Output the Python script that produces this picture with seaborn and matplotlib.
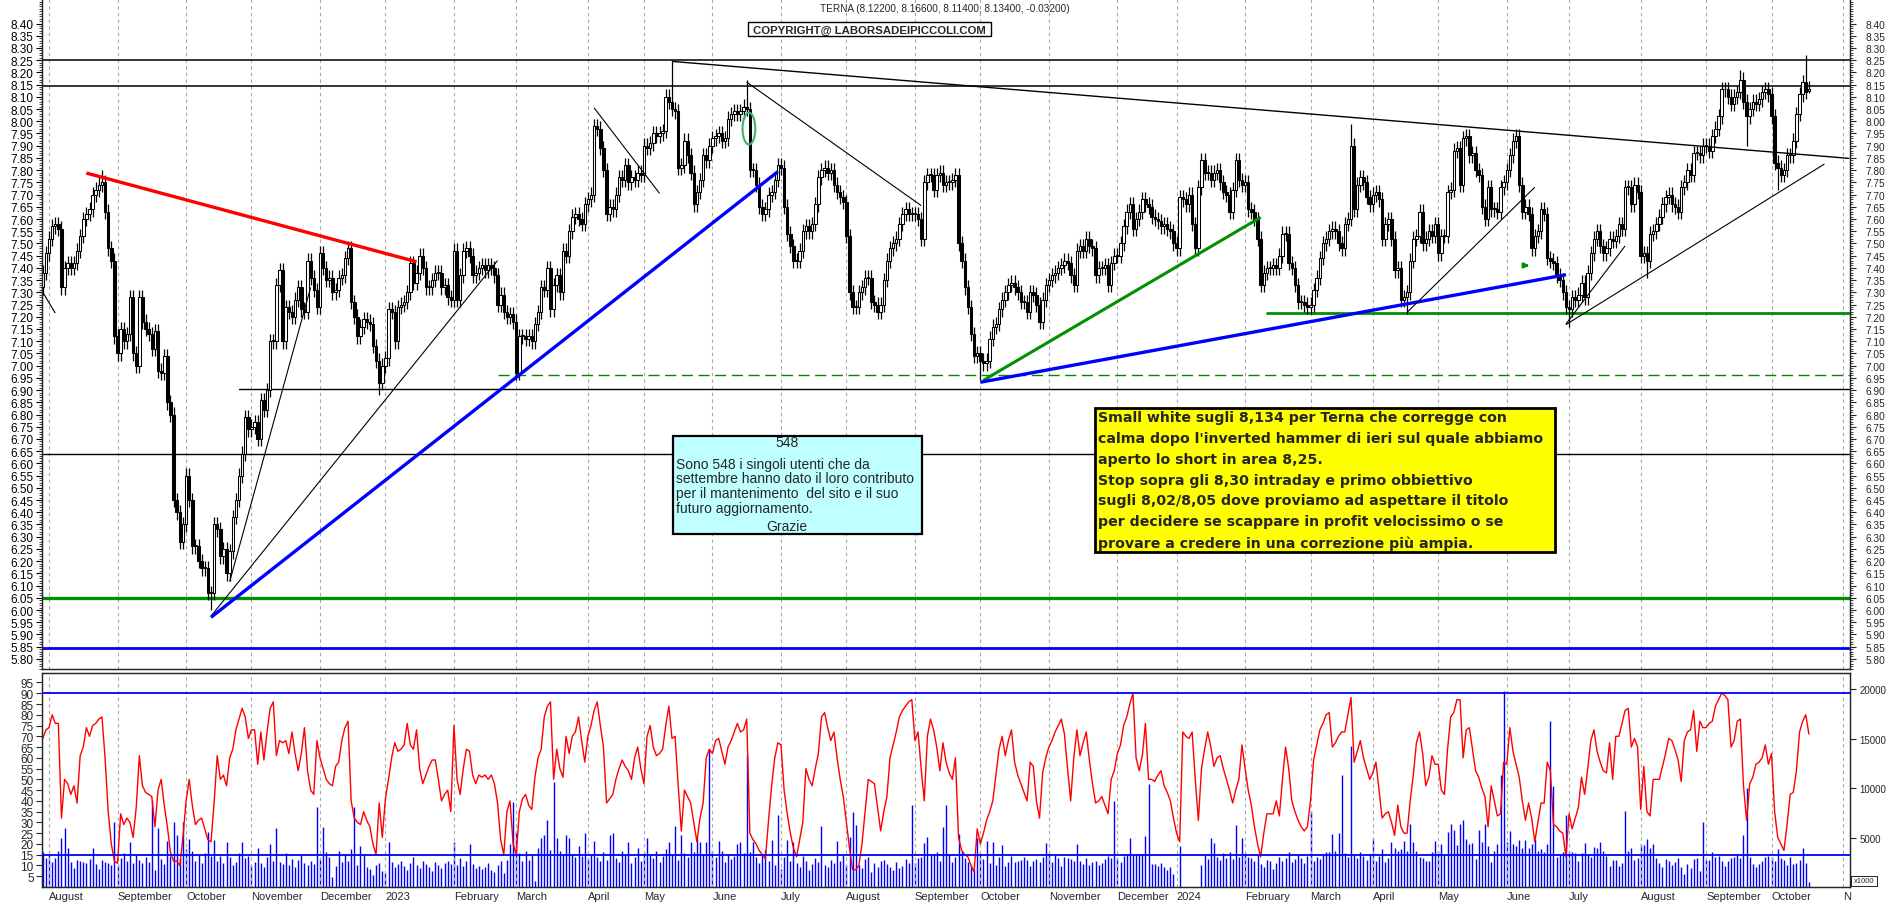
import numpy as np
import pandas as pd
import matplotlib
matplotlib.use("Agg")
import matplotlib.pyplot as plt
from matplotlib.patches import Rectangle, Ellipse
from matplotlib.ticker import MultipleLocator, FixedLocator
import seaborn as sns

# ---------------------------------------------------------------------------
# data (Jul 2022 - Oct 2024)
# ---------------------------------------------------------------------------
HOLIDAYS = ["2022-08-15", "2022-12-26", "2023-04-07", "2023-04-10", "2023-05-01",
            "2023-08-15", "2023-12-25", "2023-12-26", "2024-01-01", "2024-03-29",
            "2024-04-01", "2024-05-01", "2024-08-15"]
FIRST_DAY = "2022-07-28"
LAST_DAY = "2024-10-17"

open_first = 7.32

# daily closes, one inner list per month
close_2022 = [
    [7.38, 7.46],
    [7.52, 7.57, 7.58, 7.56, 7.32, 7.40, 7.42, 7.40, 7.42, 7.47, 7.53, 7.60, 7.62, 7.64, 7.70, 7.72, 7.74, 7.75, 7.63, 7.48, 7.43, 7.12],
    [7.05, 7.15, 7.10, 7.13, 7.28, 7.05, 7.00, 7.28, 7.18, 7.15, 7.13, 7.07, 7.14, 6.98, 6.97, 7.04, 6.85, 6.80, 6.45, 6.40, 6.28, 6.35],
    [6.55, 6.45, 6.26, 6.26, 6.20, 6.17, 6.17, 6.07, 6.07, 6.35, 6.33, 6.22, 6.25, 6.15, 6.24, 6.38, 6.45, 6.55, 6.64, 6.79, 6.74],
    [6.75, 6.77, 6.70, 6.86, 6.82, 6.90, 7.10, 7.10, 7.33, 7.39, 7.10, 7.24, 7.22, 7.20, 7.27, 7.32, 7.23, 7.22, 7.43, 7.36, 7.31, 7.24],
    [7.46, 7.40, 7.35, 7.36, 7.30, 7.31, 7.36, 7.37, 7.44, 7.48, 7.26, 7.20, 7.12, 7.16, 7.19, 7.18, 7.17, 7.08, 7.02, 6.93, 7.00],
]
close_2023 = [
    [7.03, 7.23, 7.22, 7.10, 7.24, 7.25, 7.26, 7.30, 7.42, 7.34, 7.38, 7.45, 7.40, 7.32, 7.32, 7.35, 7.38, 7.38, 7.32, 7.33, 7.28, 7.27],
    [7.47, 7.27, 7.37, 7.47, 7.48, 7.45, 7.37, 7.38, 7.40, 7.41, 7.39, 7.41, 7.40, 7.37, 7.25, 7.29, 7.22, 7.20, 7.21, 7.18],
    [6.97, 7.12, 7.12, 7.11, 7.12, 7.10, 7.17, 7.22, 7.32, 7.31, 7.40, 7.23, 7.33, 7.37, 7.30, 7.47, 7.45, 7.55, 7.61, 7.62, 7.60, 7.58, 7.66],
    [7.68, 7.70, 7.98, 7.97, 7.89, 7.80, 7.62, 7.65, 7.64, 7.70, 7.77, 7.76, 7.82, 7.75, 7.77, 7.76, 7.79, 7.78],
    [7.90, 7.89, 7.91, 7.95, 7.94, 7.95, 7.96, 8.10, 8.08, 8.05, 8.04, 7.81, 7.82, 7.92, 7.86, 7.79, 7.66, 7.71, 7.76, 7.86, 7.84, 7.90],
    [7.93, 7.94, 7.95, 7.92, 7.93, 8.01, 8.03, 8.04, 8.03, 8.04, 8.06, 8.05, 7.80, 7.80, 7.74, 7.65, 7.62, 7.64, 7.70, 7.71, 7.76, 7.82],
    [7.81, 7.65, 7.54, 7.49, 7.43, 7.43, 7.47, 7.55, 7.57, 7.55, 7.58, 7.66, 7.77, 7.80, 7.81, 7.79, 7.80, 7.74, 7.71, 7.69, 7.67],
    [7.53, 7.30, 7.24, 7.24, 7.30, 7.32, 7.36, 7.36, 7.26, 7.25, 7.22, 7.25, 7.35, 7.43, 7.48, 7.50, 7.52, 7.58, 7.62, 7.64, 7.62, 7.62],
    [7.62, 7.60, 7.52, 7.75, 7.78, 7.78, 7.72, 7.78, 7.79, 7.74, 7.75, 7.75, 7.76, 7.78, 7.50, 7.43, 7.32, 7.24, 7.13, 7.04, 7.05],
    [7.02, 7.01, 7.02, 7.11, 7.16, 7.17, 7.23, 7.27, 7.30, 7.33, 7.34, 7.32, 7.30, 7.26, 7.26, 7.22, 7.30, 7.29, 7.25, 7.18, 7.27, 7.33],
    [7.35, 7.37, 7.38, 7.40, 7.41, 7.43, 7.42, 7.37, 7.33, 7.47, 7.49, 7.47, 7.52, 7.49, 7.48, 7.37, 7.40, 7.40, 7.41, 7.33, 7.42, 7.45],
    [7.45, 7.50, 7.57, 7.63, 7.66, 7.56, 7.60, 7.63, 7.68, 7.66, 7.65, 7.61, 7.60, 7.59, 7.57, 7.58, 7.56, 7.55, 7.50],
]
close_2024 = [
    [7.48, 7.69, 7.68, 7.66, 7.70, 7.58, 7.48, 7.73, 7.84, 7.79, 7.79, 7.76, 7.79, 7.80, 7.75, 7.71, 7.70, 7.63, 7.72, 7.84, 7.76, 7.74],
    [7.75, 7.64, 7.63, 7.60, 7.52, 7.33, 7.38, 7.40, 7.40, 7.41, 7.40, 7.45, 7.54, 7.54, 7.42, 7.40, 7.33, 7.26, 7.26, 7.25, 7.24],
    [7.25, 7.31, 7.36, 7.44, 7.50, 7.52, 7.55, 7.56, 7.55, 7.50, 7.48, 7.58, 7.60, 7.90, 7.64, 7.74, 7.77, 7.75, 7.69, 7.66],
    [7.70, 7.71, 7.68, 7.52, 7.58, 7.60, 7.52, 7.39, 7.40, 7.27, 7.28, 7.30, 7.43, 7.52, 7.53, 7.63, 7.50, 7.52, 7.55, 7.53, 7.58],
    [7.46, 7.53, 7.53, 7.71, 7.72, 7.88, 7.89, 7.74, 7.93, 7.94, 7.86, 7.87, 7.80, 7.78, 7.65, 7.60, 7.73, 7.64, 7.64, 7.63, 7.73, 7.75],
    [7.80, 7.86, 7.92, 7.94, 7.74, 7.63, 7.65, 7.62, 7.48, 7.53, 7.55, 7.64, 7.62, 7.44, 7.43, 7.42, 7.37, 7.35, 7.30, 7.24],
    [7.23, 7.28, 7.27, 7.29, 7.34, 7.28, 7.38, 7.46, 7.52, 7.55, 7.49, 7.46, 7.48, 7.52, 7.51, 7.53, 7.58, 7.56, 7.73, 7.73, 7.66, 7.74, 7.71],
    [7.45, 7.46, 7.43, 7.54, 7.55, 7.58, 7.61, 7.66, 7.69, 7.70, 7.66, 7.65, 7.63, 7.73, 7.75, 7.80, 7.78, 7.87, 7.87, 7.86, 7.90],
    [7.90, 7.88, 7.94, 7.97, 8.02, 8.13, 8.13, 8.10, 8.07, 8.10, 8.12, 8.17, 8.08, 8.02, 8.05, 8.08, 8.07, 8.09, 8.12, 8.13, 8.11],
    [8.02, 7.83, 7.81, 7.78, 7.80, 7.86, 7.86, 7.92, 8.03, 8.11, 8.16, 8.12, 8.134],
]

# last bar as printed in the title: open, high, low, close
last_bar = (8.122, 8.166, 8.114, 8.134)

# wick extremes that stand out on the chart
spike_highs = {"2022-08-25": 7.80, "2023-05-15": 8.25, "2023-06-16": 8.17,
               "2024-03-20": 7.99, "2024-09-17": 8.21, "2024-10-16": 8.27}
spike_lows = {"2022-10-13": 6.00, "2022-12-29": 6.88, "2023-03-01": 6.94,
              "2023-10-02": 6.94, "2024-04-17": 7.21, "2024-07-01": 7.16,
              "2024-08-05": 7.36, "2024-09-19": 7.90, "2024-10-03": 7.72}

# oscillator (red line, left scale of lower panel)
osc_2022 = [
    [69, 73],
    [74, 80, 76, 76, 32, 50, 48, 43, 47, 39, 61, 65, 74, 70, 75, 76, 78, 79, 60, 35, 20, 12],
    [11, 34, 29, 32, 30, 23, 37, 61, 47, 44, 43, 42, 28, 45, 50, 38, 28, 16, 12, 12, 10, 23],
    [40, 50, 38, 29, 31, 32, 27, 22, 21, 39, 61, 50, 52, 47, 60, 64, 73, 78, 83, 79, 69],
    [73, 73, 57, 72, 59, 72, 83, 86, 61, 68, 67, 68, 62, 72, 62, 54, 62, 74, 54, 45, 43, 68],
    [60, 55, 50, 48, 47, 56, 58, 68, 74, 77, 40, 32, 30, 29, 35, 31, 28, 20, 15, 39, 23],
]
osc_2023 = [
    [41, 50, 60, 67, 63, 64, 66, 76, 66, 64, 73, 55, 48, 52, 56, 59, 59, 50, 40, 43, 45, 35],
    [75, 50, 43, 55, 64, 63, 52, 48, 52, 51, 52, 50, 52, 48, 39, 22, 15, 35, 40, 20],
    [15, 35, 41, 43, 38, 36, 51, 60, 64, 79, 84, 86, 50, 64, 55, 51, 70, 62, 70, 72, 79, 68, 58],
    [70, 75, 82, 86, 75, 65, 39, 41, 43, 50, 55, 59, 56, 54, 50, 60, 65, 55],
    [48, 70, 75, 65, 61, 62, 64, 75, 84, 69, 70, 47, 26, 45, 42, 39, 30, 21, 32, 39, 60, 64],
    [62, 68, 69, 63, 57, 65, 68, 72, 76, 72, 73, 78, 25, 22, 20, 17, 15, 13, 31, 47, 60, 67],
    [66, 45, 34, 25, 18, 14, 22, 30, 55, 50, 47, 55, 62, 79, 81, 74, 68, 72, 60, 50, 42],
    [30, 18, 8, 8, 10, 20, 35, 50, 49, 48, 37, 26, 35, 42, 60, 66, 72, 79, 82, 84, 86, 87],
    [68, 72, 55, 40, 70, 78, 73, 65, 54, 67, 58, 53, 50, 60, 23, 17, 15, 14, 10, 7, 27],
    [20, 25, 31, 35, 40, 52, 64, 70, 61, 68, 73, 58, 52, 48, 44, 40, 58, 56, 40, 32, 53, 60],
    [65, 68, 72, 75, 78, 71, 55, 40, 60, 73, 61, 67, 72, 59, 48, 39, 40, 42, 38, 34, 50, 54],
    [62, 66, 75, 79, 85, 90, 60, 54, 61, 76, 50, 50, 49, 52, 54, 47, 44, 40, 32],
]
osc_2024 = [
    [25, 21, 72, 70, 69, 72, 50, 31, 55, 64, 72, 65, 56, 60, 61, 55, 50, 45, 39, 45, 50, 66],
    [55, 45, 38, 28, 20, 14, 25, 34, 34, 34, 40, 33, 50, 65, 55, 40, 35, 31, 28, 26, 28],
    [40, 59, 66, 73, 76, 80, 81, 65, 67, 70, 72, 72, 80, 88, 58, 63, 68, 60, 55, 50],
    [53, 58, 45, 32, 34, 35, 30, 24, 38, 28, 25, 25, 40, 52, 67, 72, 62, 47, 51, 61, 57],
    [57, 45, 43, 64, 79, 81, 87, 87, 60, 73, 74, 64, 54, 51, 46, 42, 28, 47, 40, 33, 34, 58],
    [57, 74, 63, 57, 51, 40, 31, 39, 32, 21, 30, 39, 39, 58, 54, 29, 28, 26, 25, 14],
    [34, 27, 32, 37, 51, 43, 55, 68, 73, 63, 58, 54, 53, 67, 50, 70, 70, 76, 82, 83, 65, 69, 65],
    [36, 56, 35, 33, 50, 50, 50, 56, 62, 69, 68, 64, 59, 49, 68, 72, 73, 82, 63, 77, 74],
    [74, 76, 77, 84, 87, 90, 89, 87, 65, 68, 77, 78, 47, 31, 48, 51, 57, 58, 60, 66, 57],
    [62, 35, 23, 20, 17, 29, 43, 44, 54, 72, 77, 80, 71],
]

# volume in millions of shares (right scale is x1000 shares)
vol_2022 = [
    [3.5, 2.9],
    [3.2, 2.5, 2.9, 3.6, 5.0, 6.0, 3.9, 2.5, 1.9, 2.7, 2.6, 2.5, 2.4, 2.8, 3.9, 2.3, 1.8, 2.7, 2.5, 2.4, 2.2, 6.6],
    [2.2, 2.9, 3.4, 2.6, 4.6, 2.4, 3.2, 2.7, 2.4, 3.0, 2.5, 8.8, 1.7, 6.0, 2.8, 2.3, 4.7, 3.1, 6.6, 5.3, 2.9, 6.6],
    [3.8, 4.9, 3.6, 2.6, 3.2, 2.4, 3.4, 5.6, 3.1, 4.8, 2.6, 3.1, 2.4, 4.6, 3.0, 2.2, 2.5, 3.4, 4.6, 2.9, 3.1],
    [2.2, 2.5, 3.9, 2.4, 2.0, 3.0, 4.4, 2.6, 6.0, 2.5, 2.3, 3.4, 2.2, 2.8, 2.0, 2.7, 3.2, 2.4, 2.2, 2.6, 2.3, 8.1],
    [2.8, 6.1, 3.5, 3.0, 1.0, 2.1, 3.6, 2.5, 3.3, 2.6, 3.8, 8.1, 2.2, 4.1, 3.2, 2.0, 1.8, 1.2, 2.2, 2.4, 1.6],
]
vol_2023 = [
    [1.4, 4.6, 2.5, 2.0, 2.3, 2.6, 2.1, 1.7, 2.4, 3.0, 2.2, 1.9, 2.6, 2.3, 2.0, 1.6, 2.5, 2.2, 1.9, 2.4, 2.6, 2.3],
    [4.6, 2.2, 2.9, 2.1, 2.6, 4.4, 2.3, 1.9, 2.1, 1.8, 2.0, 2.4, 1.7, 1.5, 2.2, 2.6, 1.4, 2.7, 4.4, 8.6],
    [5.6, 3.4, 2.6, 3.6, 2.7, 3.2, 0.6, 3.9, 5.0, 5.3, 6.8, 3.7, 10.6, 5.0, 3.6, 3.2, 5.3, 5.0, 3.3, 3.0, 4.1, 3.1, 5.5],
    [2.9, 3.2, 4.7, 3.0, 2.6, 3.5, 2.7, 5.3, 5.5, 2.9, 2.5, 3.6, 3.2, 4.6, 2.4, 3.0, 3.9, 2.6],
    [3.4, 5.0, 3.2, 2.9, 3.6, 2.5, 3.1, 3.8, 4.6, 3.2, 6.2, 2.7, 5.3, 3.4, 3.0, 4.6, 3.5, 5.0, 4.6, 3.2, 4.6, 14.0],
    [3.6, 3.0, 4.7, 3.6, 2.5, 3.3, 2.8, 3.1, 4.3, 4.6, 3.4, 13.4, 3.5, 4.6, 3.0, 2.4, 3.2, 3.7, 2.6, 4.8, 2.2, 7.3],
    [1.8, 3.0, 4.8, 2.6, 4.6, 2.4, 2.0, 3.1, 2.6, 1.7, 2.3, 2.9, 2.5, 6.2, 2.2, 2.0, 2.7, 2.4, 4.7, 2.6, 3.2],
    [2.2, 5.1, 7.6, 6.3, 2.2, 1.9, 2.8, 3.0, 1.5, 2.4, 2.0, 2.6, 2.7, 2.3, 2.0, 1.7, 2.5, 1.9, 2.1, 2.8, 2.4, 8.3],
    [2.4, 2.9, 3.0, 4.5, 5.1, 3.2, 3.3, 3.5, 2.6, 6.1, 8.3, 3.3, 2.5, 3.0, 5.4, 3.6, 2.9, 2.5, 2.2, 1.8, 5.0],
    [3.4, 2.8, 4.7, 2.4, 4.6, 2.2, 3.0, 4.2, 2.1, 2.5, 3.1, 2.5, 2.6, 2.7, 3.0, 2.7, 2.1, 2.6, 2.8, 2.5, 3.0, 4.5],
    [3.4, 2.5, 3.2, 2.9, 2.1, 3.0, 2.9, 2.8, 2.6, 4.4, 2.6, 2.3, 2.9, 2.2, 2.5, 2.6, 2.2, 2.4, 2.8, 3.1, 2.9, 8.7],
    [2.9, 2.5, 3.1, 3.3, 5.0, 3.2, 3.3, 3.2, 3.3, 5.2, 10.4, 2.3, 2.3, 2.1, 2.4, 2.0, 1.7, 2.0, 1.3],
]
vol_2024 = [
    [0, 4.1, 0, 0, 0, 0, 0, 0, 2.2, 3.2, 2.8, 5.0, 4.5, 3.0, 2.7, 3.4, 2.9, 3.5, 2.8, 6.3, 3.0, 5.0],
    [3.4, 3.0, 2.9, 2.6, 3.2, 2.3, 2.0, 2.7, 2.6, 1.8, 2.4, 3.0, 2.6, 2.9, 3.5, 2.5, 2.8, 3.3, 2.9, 2.4, 3.1],
    [7.7, 2.6, 3.0, 2.8, 3.2, 3.5, 3.5, 5.4, 3.6, 5.5, 11.3, 3.4, 3.0, 14.3, 3.2, 2.9, 3.5, 3.1, 2.7, 3.3],
    [5.0, 2.6, 3.1, 3.8, 2.5, 2.9, 4.6, 3.9, 3.6, 3.8, 4.7, 3.6, 6.4, 4.6, 3.6, 3.0, 2.9, 2.6, 2.6, 3.5, 4.7],
    [3.6, 4.4, 3.2, 5.6, 6.4, 5.8, 4.2, 6.4, 6.8, 4.9, 4.3, 4.5, 2.8, 5.8, 4.6, 6.4, 4.1, 2.5, 3.6, 4.4, 11.3, 19.8],
    [4.6, 5.7, 4.4, 4.1, 4.8, 3.9, 4.8, 3.9, 4.4, 4.9, 3.6, 3.8, 3.5, 4.4, 16.8, 10.2, 3.0, 3.2, 3.5, 7.3],
    [3.6, 3.5, 3.4, 2.6, 3.4, 4.5, 3.2, 3.0, 4.0, 3.9, 4.6, 3.6, 3.1, 2.1, 2.7, 2.7, 2.1, 2.4, 7.7, 3.6, 3.9, 2.7, 2.9],
    [4.4, 4.2, 4.9, 3.9, 4.3, 2.9, 2.4, 2.0, 2.8, 2.6, 2.2, 2.5, 2.9, 2.0, 1.3, 2.3, 1.9, 2.8, 2.9, 1.6, 6.6],
    [2.7, 2.7, 3.5, 3.0, 3.1, 2.6, 2.1, 2.6, 2.9, 3.0, 3.2, 2.9, 5.3, 10.0, 3.0, 2.3, 2.0, 2.3, 2.6, 3.0, 3.1],
    [3.0, 2.6, 3.8, 2.9, 2.7, 2.2, 3.0, 2.3, 2.4, 2.7, 3.9, 2.4, 0.5],
]

# analyst drawings: (start, price, end, price, colour, width)
trend_lines = [
    ("2022-07-28", 7.30, "2022-08-03", 7.215, "black", 0.8),
    ("2022-08-18", 7.788, "2023-01-16", 7.425, "#FF0000", 2.4),
    ("2022-10-13", 5.975, "2023-02-21", 7.43, "black", 0.8),
    ("2022-10-21", 6.116, "2022-11-28", 7.32, "black", 0.8),
    ("2022-10-13", 5.97, "2023-06-30", 7.794, "#0000FF", 2.4),
    ("2023-04-05", 8.055, "2023-05-09", 7.705, "black", 0.8),
    ("2023-06-16", 8.16, "2023-09-05", 7.655, "black", 0.8),
    ("2023-05-15", 8.245, "2024-11-05", 7.848, "black", 1.0),
    ("2023-10-03", 6.94, "2024-02-08", 7.607, "#009000", 2.2),
    ("2023-10-02", 6.932, "2024-06-28", 7.372, "#0000FF", 2.4),
    ("2024-04-17", 7.218, "2024-06-14", 7.73, "black", 0.8),
    ("2024-06-28", 7.17, "2024-07-25", 7.49, "black", 0.8),
    ("2024-06-28", 7.168, "2024-10-24", 7.825, "black", 0.8),
]
# horizontal levels: (price, start or None for full width, colour, width, style)
level_lines = [
    (8.25, None, "black", 1.1, "-"),
    (8.143, None, "black", 1.1, "-"),
    (6.64, None, "black", 1.0, "-"),
    (6.905, "2022-10-26", "black", 1.0, "-"),
    (6.963, "2023-02-21", "#008800", 1.0, (0, (8, 4))),
    (7.216, "2024-02-12", "#009000", 2.0, "-"),
    (6.05, None, "#009000", 2.4, "-"),
    (5.845, None, "#0000FF", 2.0, "-"),
]
gap_marker = ("2023-06-19", 7.97)      # green ellipse on the June 2023 gap
arrow_marker = ("2024-06-11", 7.41)    # small green arrow

osc_levels = [90, 15]

title_text = "TERNA (8.12200, 8.16600, 8.11400, 8.13400, -0.03200)"
copyright_text = "COPYRIGHT@ LABORSADEIPICCOLI.COM"
info_lines = ["Sono 548 i singoli utenti che da",
              "settembre hanno dato il loro contributo",
              "per il mantenimento  del sito e il suo",
              "futuro aggiornamento."]
comment_lines = ["Small white sugli 8,134 per Terna che corregge con",
                 "calma dopo l'inverted hammer di ieri sul quale abbiamo",
                 "aperto lo short in area 8,25.",
                 "Stop sopra gli 8,30 intraday e primo obbiettivo",
                 "sugli 8,02/8,05 dove proviamo ad aspettare il titolo",
                 "per decidere se scappare in profit velocissimo o se",
                 "provare a credere in una correzione più ampia."]

# ---------------------------------------------------------------------------
cal = pd.bdate_range(FIRST_DAY, "2024-11-29", freq="C", holidays=HOLIDAYS)
dates = cal[cal <= pd.Timestamp(LAST_DAY)]
expected = list(pd.Series(1, index=dates).groupby(dates.to_period("M")).size().values)

def flatten(months, name):
    got = [len(m) for m in months]
    if got != expected:
        raise ValueError(f"{name}: {got} vs {expected}")
    return np.array([v for m in months for v in m], dtype=float)

closes = flatten(close_2022 + close_2023 + close_2024, "close")
osc = flatten(osc_2022 + osc_2023 + osc_2024, "osc")
vol = flatten(vol_2022 + vol_2023 + vol_2024, "vol")
n = len(closes)
x = np.arange(n)


def pos(d):
    return int(cal.searchsorted(pd.Timestamp(d)))


WICK = 0.03
opens = np.r_[open_first, closes[:-1]]
highs = np.maximum(opens, closes) + WICK
lows = np.minimum(opens, closes) - WICK
for d, v in spike_highs.items():
    highs[pos(d)] = v
for d, v in spike_lows.items():
    lows[pos(d)] = v
opens[-1], highs[-1], lows[-1], closes[-1] = last_bar

# ---------------------------------------------------------------------------
sns.set_style("white")
plt.rcParams["font.family"] = ["Liberation Sans", "DejaVu Sans"]
plt.rcParams["axes.linewidth"] = 0.9

W, H = 1890, 903
fig = plt.figure(figsize=(W / 100, H / 100), dpi=100)


def fx(px):
    return px / W


def fy(py):
    return 1 - py / H


XLIM = (-0.25, 580.2)
ax = fig.add_axes([fx(42), fy(670), fx(1850) - fx(42), fy(0) - fy(670)])
axo = fig.add_axes([fx(42), fy(888), fx(1850) - fx(42), fy(674) - fy(888)])
axv = axo.twinx()
axo.set_zorder(2)
axv.set_zorder(1)
axo.patch.set_visible(False)

# month grid
month_starts = [i for i in range(1, len(cal)) if cal[i].month != cal[i - 1].month]
month_starts = [p for p in month_starts if p <= XLIM[1]]
for a in (ax, axo):
    for p in month_starts:
        a.axvline(p, color="#A8A8A8", lw=0.8, ls=(0, (3, 3)), zorder=0)

# candles
up = closes >= opens
ax.vlines(x, lows, highs, color="black", lw=0.9, zorder=3)
body_lo = np.minimum(opens, closes)
body_h = np.maximum(np.abs(closes - opens), 0.004)
ax.bar(x[up], body_h[up], bottom=body_lo[up], width=0.8, color="white",
       edgecolor="black", linewidth=0.75, zorder=4)
ax.bar(x[~up], body_h[~up], bottom=body_lo[~up], width=0.8, color="black",
       edgecolor="black", linewidth=0.75, zorder=4)

# drawings
for s, ps, e, pe, c, w in trend_lines:
    ax.plot([pos(s), pos(e)], [ps, pe], color=c, lw=w, solid_capstyle="butt", zorder=5)
for p, s, c, w, st in level_lines:
    x0 = XLIM[0] if s is None else pos(s)
    ax.plot([x0, XLIM[1]], [p, p], color=c, lw=w, ls=st, zorder=2)
ax.add_patch(Ellipse((pos(gap_marker[0]) - 0.3, gap_marker[1]), 4.1, 0.13, fill=False,
                     edgecolor="#3CB371", lw=1.5, zorder=6))
ax.annotate("", xy=(pos(arrow_marker[0]) + 2.2, arrow_marker[1]),
            xytext=(pos(arrow_marker[0]) - 1.2, arrow_marker[1]),
            arrowprops=dict(arrowstyle="-|>", color="#009000", lw=1.8,
                            mutation_scale=7), zorder=6)

LEFT_FS = 8.5
RIGHT_FS = 7.3
ax.set_xlim(*XLIM)
ax.set_ylim(5.7586, 8.5003)
ax.set_xticks([])
ax.yaxis.set_major_locator(FixedLocator(np.round(np.arange(5.80, 8.401, 0.05), 2)))
ax.yaxis.set_minor_locator(MultipleLocator(0.01))
ax.yaxis.set_major_formatter(matplotlib.ticker.FormatStrFormatter("%.2f"))
ax.tick_params(axis="y", which="major", direction="out", length=4, width=0.8,
               labelsize=LEFT_FS, pad=2, colors="black")
ax.tick_params(axis="y", which="minor", direction="out", length=2, width=0.6)
axr = ax.twinx()
axr.set_ylim(ax.get_ylim())
axr.yaxis.set_major_locator(FixedLocator(np.round(np.arange(5.80, 8.401, 0.05), 2)))
axr.yaxis.set_minor_locator(MultipleLocator(0.01))
axr.yaxis.set_major_formatter(matplotlib.ticker.FormatStrFormatter("%.2f"))
axr.tick_params(axis="y", which="major", direction="out", length=4, width=0.8,
                labelsize=RIGHT_FS, pad=7.5)
axr.tick_params(axis="y", which="minor", direction="out", length=2, width=0.6)
for a in (ax, axr):
    a.spines["top"].set_visible(False)

# lower panel: volume + oscillator
axv.vlines(x, 0, vol * 1000, color="#0000FF", lw=1.0)
sns.lineplot(x=x, y=osc, ax=axo, color="#FF0000", linewidth=1.0, legend=False)
for lv in osc_levels:
    axo.axhline(lv, color="#0000FF", lw=1.3, zorder=3)
axo.set_xlim(*XLIM)
axo.set_ylim(0, 99.4)
axv.set_ylim(0, 21650)
axo.set_yticks(range(5, 100, 5))
axo.tick_params(axis="y", direction="out", length=4, width=0.8, labelsize=LEFT_FS, pad=2)
axv.set_yticks([5000, 10000, 15000, 20000])
axv.tick_params(axis="y", direction="out", length=4, width=0.8, labelsize=7.0, pad=3)
axo.set_xlabel("")
axo.set_ylabel("")

month_names = []
for p in month_starts:
    d = cal[p]
    if d.month == 1:
        month_names.append(str(d.year))
    elif p >= len(dates):
        month_names.append(d.strftime("%B")[0])
    else:
        month_names.append(d.strftime("%B"))
axo.set_xticks(month_starts)
axo.set_xticklabels(month_names)
axo.tick_params(axis="x", direction="out", length=11, width=0.8, labelsize=8, pad=-8)
for lab in axo.get_xticklabels():
    lab.set_horizontalalignment("left")

# texts and boxes
fig.text(fx(945), fy(9), title_text, ha="center", va="center", fontsize=7.2)

fig.add_artist(Rectangle((fx(748), fy(37)), fx(991) - fx(748), fy(23) - fy(37),
                         transform=fig.transFigure, facecolor="white",
                         edgecolor="black", lw=1.0, zorder=5))
fig.text(fx(869.5), fy(30.5), copyright_text, ha="center", va="center",
         fontsize=8.2, fontweight="bold", zorder=6)

fig.add_artist(Rectangle((fx(673), fy(535)), fx(922) - fx(673), fy(437) - fy(535),
                         transform=fig.transFigure, facecolor="#C0FFFF",
                         edgecolor="black", lw=1.6, zorder=5))
fig.text(fx(787), fy(443.5), "548", ha="center", va="center", fontsize=10, zorder=6)
for ln, yy in zip(info_lines, [465.5, 479, 494, 509]):
    fig.text(fx(676), fy(yy), ln, ha="left", va="center", fontsize=10, zorder=6)
fig.text(fx(787), fy(527.5), "Grazie", ha="center", va="center", fontsize=10, zorder=6)

fig.add_artist(Rectangle((fx(1095), fy(553)), fx(1555) - fx(1095), fy(409) - fy(553),
                         transform=fig.transFigure, facecolor="#FFFF00",
                         edgecolor="black", lw=2.0, zorder=5))
for ln, yy in zip(comment_lines, [418.3, 439.3, 460, 481, 500.7, 522.3, 543.3]):
    fig.text(fx(1098), fy(yy), ln, ha="left", va="center", fontsize=10.2,
             fontweight="bold", family=["DejaVu Sans"], zorder=6)

fig.add_artist(Rectangle((fx(1851), fy(887)), fx(1877) - fx(1851), fy(877) - fy(887),
                         transform=fig.transFigure, facecolor="white",
                         edgecolor="black", lw=0.6, zorder=5))
fig.text(fx(1864), fy(882), "x1000", ha="center", va="center", fontsize=5.5, zorder=6)

fig.savefig("out.png", dpi=100)
